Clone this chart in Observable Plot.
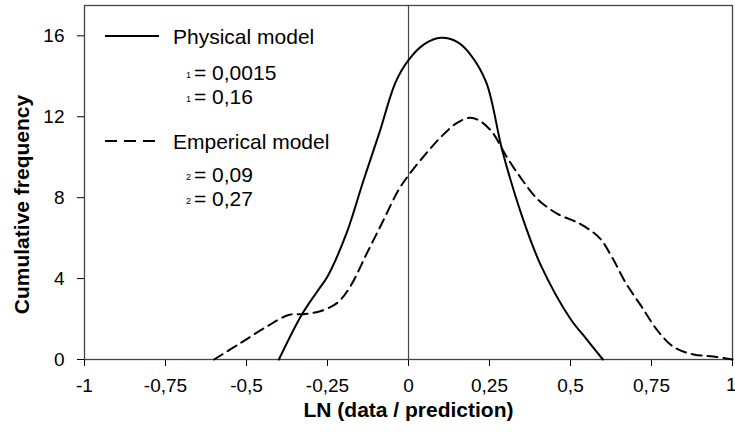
<!DOCTYPE html>
<html>
<head>
<meta charset="utf-8">
<script src="https://cdn.jsdelivr.net/npm/d3@7"></script>
<script src="https://cdn.jsdelivr.net/npm/@observablehq/plot@0.6"></script>
<style>
  html, body { margin: 0; padding: 0; background: #fff; }
  #chart { width: 735px; height: 443px; }
</style>
</head>
<body>
<div id="chart"></div>
<script>
// ---- Data ----
const xTicks = [-1, -0.75, -0.5, -0.25, 0, 0.25, 0.5, 0.75, 1];
const yTicks = [0, 4, 8, 12, 16];

// Physical model (solid)
const physX = [-0.4, -0.33, -0.28, -0.25, -0.19, -0.14, -0.09, -0.04, 0, 0.05, 0.1, 0.15, 0.19, 0.24, 0.29, 0.35, 0.41, 0.5, 0.55, 0.6];
const physY = [0, 2.2, 3.4, 4.1, 6.3, 8.8, 11.2, 13.7, 14.8, 15.6, 15.9, 15.7, 15.1, 13.7, 10.3, 7.1, 4.6, 2.0, 1.0, 0];

// Emperical model (dashed)
const empX = [-0.6, -0.52, -0.44, -0.37, -0.32, -0.27, -0.22, -0.18, -0.13, -0.08, -0.03, 0, 0.05, 0.1, 0.15, 0.19, 0.22, 0.26, 0.3, 0.35, 0.4, 0.46, 0.53, 0.59, 0.63, 0.67, 0.72, 0.77, 0.82, 0.88, 0.94, 1.0];
const empY = [0, 0.8, 1.6, 2.2, 2.25, 2.4, 2.8, 3.6, 5.2, 6.8, 8.4, 9.1, 10.1, 11.0, 11.7, 11.95, 11.8, 11.2, 10.1, 8.9, 7.9, 7.2, 6.7, 6.0, 5.0, 3.8, 2.6, 1.4, 0.6, 0.25, 0.15, 0];

const seriesNames = ["Physical model", "Emperical model"];
const statSubs = ["1", "1", "2", "2"];
const statVals = ["= 0,0015", "= 0,16", "= 0,09", "= 0,27"];
const xTitle = "LN (data / prediction)";
const yTitle = "Cumulative frequency";

const phys = physX.map((x, i) => ({x, y: physY[i]}));
const emp = empX.map((x, i) => ({x, y: empY[i]}));

const fmt = d => String(d).replace(".", ",");
const lastX = xTicks[xTicks.length - 1];
const FONT = "Liberation Sans, Arial, Helvetica, sans-serif";

const mL = 84, mT = 5, mR = 3, mB = 84, W = 735, H = 443;

const svg = Plot.plot({
  width: W,
  height: H,
  marginLeft: mL,
  marginRight: mR,
  marginTop: mT,
  marginBottom: mB,
  style: {fontFamily: FONT, fontSize: "19px", color: "#000", background: "#fff", overflow: "visible"},
  x: {domain: [-1, 1], ticks: xTicks, tickFormat: d => d === lastX ? "" : fmt(d), tickSize: 7, tickPadding: 12, label: null},
  y: {domain: [0, 17.5], ticks: yTicks, tickFormat: fmt, tickSize: 7, tickPadding: 13, label: null},
  marks: [
    Plot.frame({stroke: "#444", strokeWidth: 1.3}),
    Plot.ruleX([0], {stroke: "#444", strokeWidth: 1.2}),
    Plot.line(phys, {x: "x", y: "y", curve: "catmull-rom", stroke: "#000", strokeWidth: 2}),
    Plot.line(emp, {x: "x", y: "y", curve: "catmull-rom", stroke: "#000", strokeWidth: 2, strokeDasharray: "10,6"}),
    Plot.text([lastX], {x: d => d, text: fmt, frameAnchor: "bottom", textAnchor: "end", dx: 4, dy: 31, fontSize: 19, fill: "#000"}),
    Plot.text([xTitle], {frameAnchor: "bottom", dy: 57, fontSize: 21, fontWeight: "bold", fill: "#000", textAnchor: "middle"}),
    Plot.text([yTitle], {frameAnchor: "left", dx: -62, dy: 22, rotate: -90, fontSize: 21, fontWeight: "bold", fill: "#000", textAnchor: "middle"})
  ]
});

// Legend (drawn on top of the plot area)
const g = d3.select(svg).append("g").attr("font-family", FONT).attr("fill", "#000").attr("text-anchor", "start");
const legend = [
  {name: seriesNames[0], dash: null, lineY: 36, base: 44, rows: [[statSubs[0], statVals[0], 80], [statSubs[1], statVals[1], 104]]},
  {name: seriesNames[1], dash: "12,7", lineY: 141, base: 149, rows: [[statSubs[2], statVals[2], 182], [statSubs[3], statVals[3], 206]]}
];
for (const L of legend) {
  g.append("line").attr("x1", 105).attr("x2", 159).attr("y1", L.lineY).attr("y2", L.lineY)
    .attr("stroke", "#000").attr("stroke-width", 2).attr("stroke-dasharray", L.dash);
  g.append("text").attr("x", 173).attr("y", L.base).attr("font-size", 21).text(L.name);
  for (const [sub, val, b] of L.rows) {
    g.append("text").attr("x", 186).attr("y", b - 2).attr("font-size", 9).text(sub);
    g.append("text").attr("x", 194).attr("y", b).attr("font-size", 21).text(val);
  }
}

document.getElementById("chart").appendChild(svg);
</script>
</body>
</html>
